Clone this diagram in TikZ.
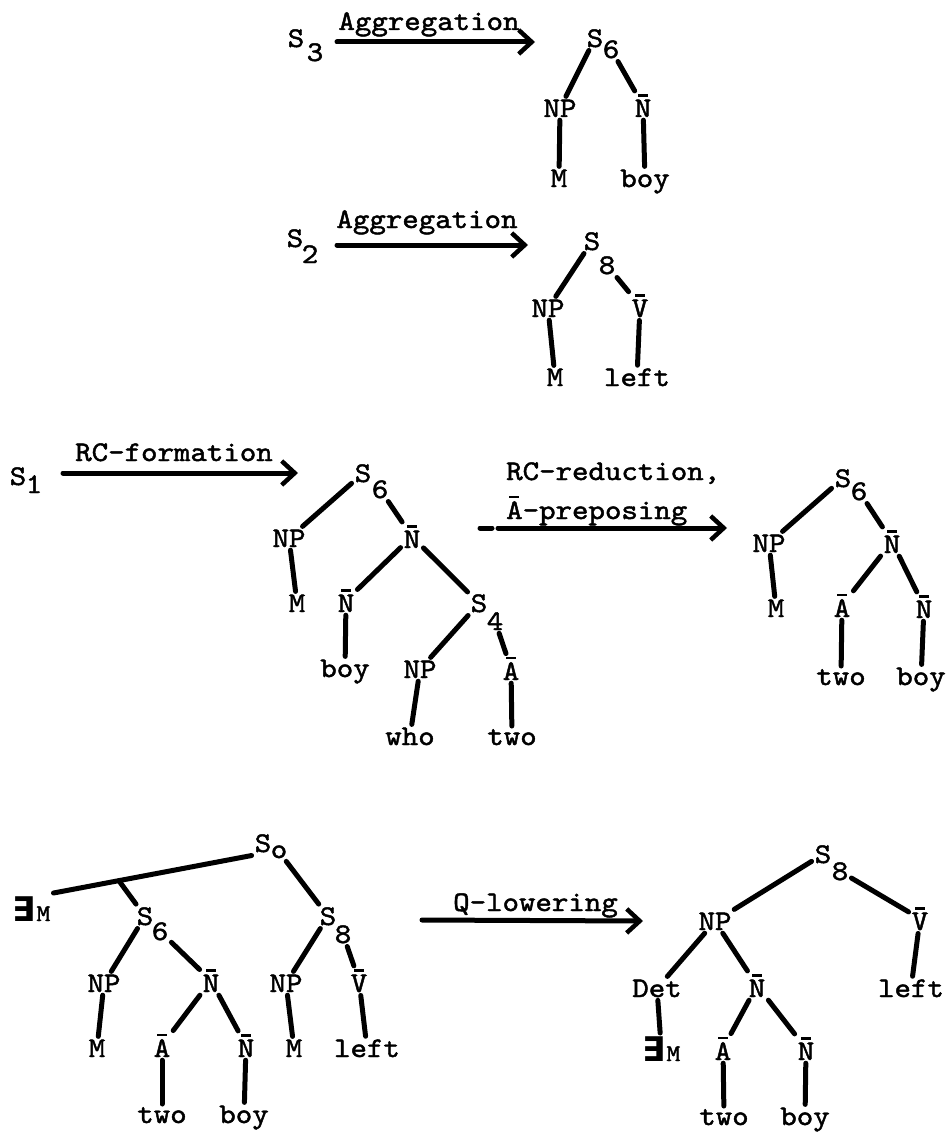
\documentclass[tikz,border=0pt]{standalone}
\usepackage{fontspec}
\newfontfamily\symfont{DejaVu Sans}
\newfontfamily\twfont{lmmono10-regular.otf}[RawFeature={embolden=1.6;extend=1.1}]
\usetikzlibrary{arrows.meta}

% category label with a short bar over it
\newcommand{\ob}[1]{\setbox0=\hbox{#1}\hbox{\rlap{\hbox to \wd0{\hss\rule[\dimexpr\ht0+3pt\relax]{0.6\wd0}{2.5pt}\hss}}\box0}}
% existential quantifier over M
\newcommand{\exM}{{\symfont\bfseries\fontsize{34}{36}\selectfont ∃}\kern1pt{\fontsize{24}{26}\selectfont M}}

\tikzset{
  lab/.style={font=\twfont\fontsize{28.5}{32}\selectfont, inner sep=3pt, anchor=base},
  lefttext/.style={lab, anchor=base west},
  edge/.style={line width=5pt, line cap=round},
  trans/.style={line width=5pt, line cap=round,
    -{Straight Barb[length=13pt,width=24pt,line width=4.5pt]}},
}

\begin{document}
\begin{tikzpicture}[x=1pt,y=-1pt]
\fill[white] (0,0) rectangle (949,1134);
\useasboundingbox (0,0) rectangle (949,1134);

% ---------- S3 --Aggregation--> S6 ----------
\node[lab] (s3) at (296,47) {S};
\node[lab] (s3n) at (315,61) {3};
\coordinate (a1s) at (337,42);
\coordinate (a1e) at (535,42);
\draw[trans] (a1s) -- (a1e);
\node[lab] (a1l) at (429,30) {Aggregation};

\node[lab] (t1s) at (595,47) {S};
\node[lab] (t1s6) at (611,58) {6};
\node[lab] (t1np) at (560,117) {NP};
\node[lab] (t1nb) at (643,117) {\ob{N}};
\node[lab] (t1m) at (559,187) {M};
\node[lab] (t1boy) at (645,187) {boy};
\draw[edge] (t1s) -- (t1np);
\draw[edge] (t1s6) -- (t1nb);
\draw[edge] (t1np) -- (t1m);
\draw[edge] (t1nb) -- (t1boy);

% ---------- S2 --Aggregation--> S8 ----------
\node[lab] (s2) at (295,247) {S};
\node[lab] (s2n) at (310,263) {2};
\coordinate (a2s) at (337,245);
\coordinate (a2e) at (528,245);
\draw[trans] (a2s) -- (a2e);
\node[lab] (a2l) at (427,228) {Aggregation};

\node[lab] (t2s) at (592,250) {S};
\node[lab] (t2s8) at (607,274) {8};
\node[lab] (t2np) at (548,317) {NP};
\node[lab] (t2vb) at (640,317) {\ob{V}};
\node[lab] (t2m) at (555,386) {M};
\node[lab] (t2left) at (637,386) {left};
\draw[edge] (t2s) -- (t2np);
\draw[edge] (t2s8) -- (t2vb);
\draw[edge] (t2np) -- (t2m);
\draw[edge] (t2vb) -- (t2left);

% ---------- S1 --RC-formation--> S6 ----------
\node[lab] (s1) at (18,485) {S};
\node[lab] (s1n) at (34,493) {1};
\coordinate (a3s) at (63,473);
\coordinate (a3e) at (298,473);
\draw[trans] (a3s) -- (a3e);
\node[lab] (a3l) at (174,461) {RC-formation};

\node[lab] (t3s) at (363,482) {S};
\node[lab] (t3s6) at (380,498) {6};
\node[lab] (t3np) at (289,547) {NP};
\node[lab] (t3nb) at (412,548) {\ob{N}};
\node[lab] (t3m) at (297,612) {M};
\node[lab] (t3nb2) at (346,612) {\ob{N}};
\node[lab] (t3s4) at (479,612) {S};
\node[lab] (t3s4n) at (495,630) {4};
\node[lab] (t3boy) at (345,677) {boy};
\node[lab] (t3np2) at (420,678) {NP};
\node[lab] (t3ab) at (511,680) {\ob{A}};
\node[lab] (t3who) at (410,745) {who};
\node[lab] (t3two) at (512,745) {two};
\draw[edge] (t3s) -- (t3np);
\draw[edge] (t3s6) -- (t3nb);
\draw[edge] (t3np) -- (t3m);
\draw[edge] (t3nb) -- (t3nb2);
\draw[edge] (t3nb) -- (t3s4);
\draw[edge] (t3nb2) -- (t3boy);
\draw[edge] (t3s4) -- (t3np2);
\draw[edge] (t3s4n) -- (t3ab);
\draw[edge] (t3np2) -- (t3who);
\draw[edge] (t3ab) -- (t3two);

% ---------- --RC-reduction, A-preposing--> S6 ----------
\coordinate (a4d1) at (480,528);
\coordinate (a4d2) at (492,528);
\coordinate (a4s) at (498,528);
\coordinate (a4e) at (727,528);
\draw[edge] (a4d1) -- (a4d2);
\draw[trans] (a4s) -- (a4e);
\node[lefttext] (a4l1) at (503,480) {RC-reduction,};
\node[lefttext] (a4l2) at (503,519) {\ob{A}-preposing};

\node[lab] (r3s) at (843,487) {S};
\node[lab] (r3s6) at (859,500) {6};
\node[lab] (r3np) at (769,552) {NP};
\node[lab] (r3nb) at (892,553) {\ob{N}};
\node[lab] (r3m) at (776,617) {M};
\node[lab] (r3ab) at (842,617) {\ob{A}};
\node[lab] (r3nb2) at (924,618) {\ob{N}};
\node[lab] (r3two) at (841,685) {two};
\node[lab] (r3boy) at (921,685) {boy};
\draw[edge] (r3s) -- (r3np);
\draw[edge] (r3s6) -- (r3nb);
\draw[edge] (r3np) -- (r3m);
\draw[edge] (r3nb) -- (r3ab);
\draw[edge] (r3nb) -- (r3nb2);
\draw[edge] (r3ab) -- (r3two);
\draw[edge] (r3nb2) -- (r3boy);

% ---------- S0 with quantifier ----------
\node[lab] (so) at (263,852) {S};
\node[lab] (soo) at (279,858) {o};
\node[lefttext] (em) at (9,921) {\exM};
\node[lab] (f6s) at (145,925) {S};
\node[lab] (f6n) at (160,940) {6};
\node[lab] (f8s) at (328,925) {S};
\node[lab] (f8n) at (343,943) {8};
\node[lab] (fnp1) at (104,992) {NP};
\node[lab] (fnb) at (211,992) {\ob{N}};
\node[lab] (fnp2) at (286,992) {NP};
\node[lab] (fvb) at (359,992) {\ob{V}};
\node[lab] (fm1) at (97,1057) {M};
\node[lab] (fab) at (162,1057) {\ob{A}};
\node[lab] (fnb2) at (246,1057) {\ob{N}};
\node[lab] (fm2) at (294,1057) {M};
\node[lab] (fleft) at (367,1057) {left};
\node[lab] (ftwo) at (162,1123) {two};
\node[lab] (fboy) at (244,1123) {boy};
\draw[edge] (so.south west) -- coordinate[pos=0.67] (br) (em.north east);
\draw[edge] (br) -- (f6s);
\draw[edge] (soo) -- (f8s);
\draw[edge] (f6s) -- (fnp1);
\draw[edge] (f6n) -- (fnb);
\draw[edge] (fnp1) -- (fm1);
\draw[edge] (fnb) -- (fab);
\draw[edge] (fnb) -- (fnb2);
\draw[edge] (fab) -- (ftwo);
\draw[edge] (fnb2) -- (fboy);
\draw[edge] (f8s) -- (fnp2);
\draw[edge] (f8n) -- (fvb);
\draw[edge] (fnp2) -- (fm2);
\draw[edge] (fvb) -- (fleft);

% ---------- --Q-lowering--> S8 ----------
\coordinate (a5s) at (422,920);
\coordinate (a5e) at (643,921);
\draw[trans] (a5s) -- (a5e);
\node[lefttext] (a5l) at (450,911) {Q-lowering};

\node[lab] (gs) at (823,863) {S};
\node[lab] (g8) at (840,880) {8};
\node[lab] (gnp) at (715,930) {NP};
\node[lab] (gvb) at (920,930) {\ob{V}};
\node[lab] (gdet) at (657,997) {Det};
\node[lab] (gnb) at (757,997) {\ob{N}};
\node[lab] (gleft) at (911,997) {left};
\node[lefttext] (gem) at (639,1061) {\exM};
\node[lab] (gab) at (723,1060) {\ob{A}};
\node[lab] (gnb2) at (806,1060) {\ob{N}};
\node[lab] (gtwo) at (724,1125) {two};
\node[lab] (gboy) at (805,1125) {boy};
\draw[edge] (gs) -- (gnp);
\draw[edge] (g8) -- (gvb);
\draw[edge] (gvb) -- (gleft);
\draw[edge] (gnp) -- (gdet);
\draw[edge] (gnp) -- (gnb);
\draw[edge] (gdet) -- (gem);
\draw[edge] (gnb) -- (gab);
\draw[edge] (gnb) -- (gnb2);
\draw[edge] (gab) -- (gtwo);
\draw[edge] (gnb2) -- (gboy);
\end{tikzpicture}
\end{document}
